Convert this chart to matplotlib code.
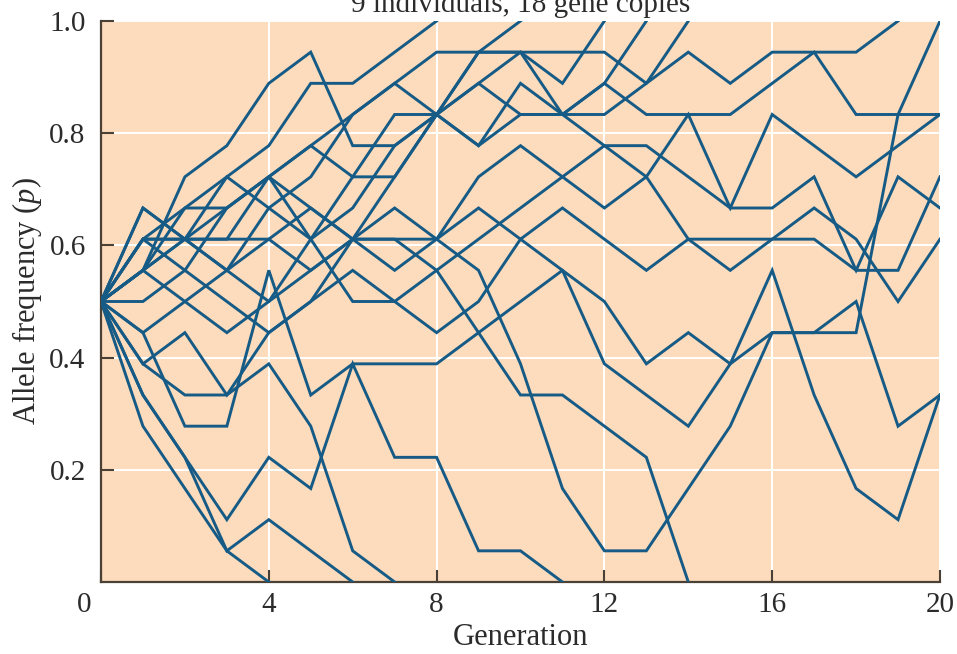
import matplotlib
matplotlib.use("Agg")
import numpy as np
import matplotlib.pyplot as plt
import matplotlib.transforms as mtransforms

# allele counts (out of 18 gene copies) for each replicate population, generation 0, 1, 2, ...
n_copies = 18
p_lost4 = [9, 5, 3, 1, 0]
p_lost6 = [9, 6, 4, 1, 2, 1, 0]
p_lost7 = [9, 7, 6, 6, 7, 5, 1, 0]
p_lost11 = [9, 6, 4, 2, 4, 3, 7, 4, 4, 1, 1, 0]
p_lost14 = [9, 10, 11, 10, 9, 10, 11, 11, 10, 8, 6, 6, 5, 4, 0]
p_fix8 = [9, 11, 12, 13, 14, 16, 16, 17, 18]
p_fix10 = [9, 10, 13, 14, 16, 17, 14, 14, 15, 17, 18]
p_fix12 = [9, 12, 11, 11, 13, 14, 13, 15, 15, 17, 17, 16, 18]
p_fix13 = [9, 11, 10, 12, 13, 11, 12, 14, 15, 14, 15, 15, 16, 18]
p_fix14 = [9, 10, 11, 13, 12, 13, 15, 16, 15, 16, 17, 15, 15, 16, 18]
p_fix19 = [9, 11, 11, 12, 13, 14, 15, 16, 17, 17, 17, 17, 17, 16, 17, 16, 17, 17, 17, 18]
p_fix20 = [9, 8, 9, 10, 11, 10, 11, 12, 11, 10, 7, 3, 1, 1, 3, 5, 8, 8, 8, 15, 18]
p_end15a = [9, 10, 12, 12, 13, 12, 11, 13, 15, 14, 16, 15, 16, 15, 15, 15, 16, 17, 15, 15, 15]
p_end15b = [9, 11, 11, 11, 11, 12, 11, 11, 11, 13, 14, 13, 12, 13, 15, 12, 15, 14, 13, 14, 15]
p_end13 = [9, 9, 10, 9, 8, 9, 11, 10, 11, 12, 11, 12, 11, 10, 11, 11, 11, 11, 10, 10, 13]
p_end12 = [9, 10, 9, 8, 9, 11, 9, 9, 10, 11, 12, 13, 14, 14, 13, 12, 12, 13, 10, 13, 12]
p_end11 = [9, 12, 11, 10, 12, 11, 13, 13, 15, 16, 15, 15, 14, 13, 11, 10, 11, 12, 11, 9, 11]
p_end6a = [9, 8, 5, 5, 10, 6, 7, 7, 7, 8, 9, 10, 9, 7, 8, 7, 8, 8, 9, 5, 6]
p_end6b = [9, 7, 8, 6, 8, 9, 10, 9, 8, 9, 11, 10, 7, 6, 5, 7, 10, 6, 3, 2, 6]

runs = [p_lost4, p_lost6, p_lost7, p_lost11, p_lost14,
        p_fix8, p_fix10, p_fix12, p_fix13, p_fix14, p_fix19, p_fix20,
        p_end15a, p_end15b, p_end13, p_end12, p_end11, p_end6a, p_end6b]

x_ticks = [0, 4, 8, 12, 16, 20]
y_ticks = [0.2, 0.4, 0.6, 0.8, 1.0]

plt.rcParams['font.family'] = 'Liberation Serif'
plt.rcParams['mathtext.fontset'] = 'custom'
plt.rcParams['mathtext.it'] = 'Liberation Serif:italic'
plt.rcParams['mathtext.rm'] = 'Liberation Serif'

fig = plt.figure(figsize=(9.57, 6.54), dpi=100)
ax = fig.add_axes([101/957, 1 - 582/654, 839/957, 561/654])
ax.set_facecolor('#fcdcbc')

for run in runs:
    gen = np.arange(len(run))
    ax.plot(gen, np.array(run) / n_copies, color='#165a86', lw=2.1,
            solid_joinstyle='miter', zorder=3)

ax.set_xlim(0, 20)
ax.set_ylim(0, 1)
ax.set_xticks(x_ticks)
ax.set_xticklabels([str(t) for t in x_ticks])
ax.set_yticks(y_ticks)
ax.set_yticklabels(['%.1f' % t for t in y_ticks])
ax.grid(True, color='white', lw=1.4, zorder=1)
ax.set_axisbelow(True)

for s in ['top', 'right']:
    ax.spines[s].set_visible(False)
for s in ['left', 'bottom']:
    ax.spines[s].set_color('#4a4036')
    ax.spines[s].set_linewidth(1.6)

ax.tick_params(direction='in', length=9, width=1.5, color='#4a4036',
               labelsize=21, labelcolor='#2b2b2b')
ax.tick_params(axis='y', pad=11)
ax.tick_params(axis='x', pad=7)

# shift the "0" corner label a little to the left
lbl0 = ax.get_xticklabels()[0]
lbl0.set_transform(lbl0.get_transform() +
                   mtransforms.ScaledTranslation(-17/100, 0, fig.dpi_scale_trans))

ax.set_xlabel('Generation', fontsize=22, color='#2b2b2b', labelpad=4)
ax.set_ylabel('Allele frequency ($p$)', fontsize=22, color='#2b2b2b', labelpad=4)

fig.text(521/957, 1 - 12/654, '9 individuals, 18 gene copies', ha='center',
         va='baseline', fontsize=21, color='#2b2b2b')

fig.savefig('out.png', dpi=100)
